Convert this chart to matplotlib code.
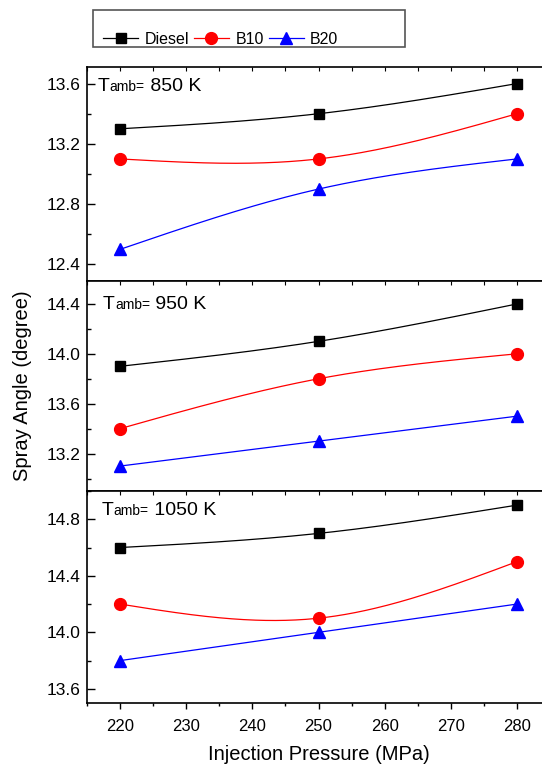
import numpy as np
import matplotlib
matplotlib.use('Agg')
import matplotlib.pyplot as plt
from matplotlib.patches import Rectangle
from matplotlib.offsetbox import TextArea, HPacker, AnchoredOffsetbox
from matplotlib.ticker import MultipleLocator, FormatStrFormatter

plt.rcParams['font.family'] = ['Liberation Sans', 'DejaVu Sans']

# data
pressure = [220, 250, 280]
temps = [850, 950, 1050]
diesel = [[13.3, 13.4, 13.6], [13.9, 14.1, 14.4], [14.6, 14.7, 14.9]]
b10 = [[13.1, 13.1, 13.4], [13.4, 13.8, 14.0], [14.2, 14.1, 14.5]]
b20 = [[12.5, 12.9, 13.1], [13.1, 13.3, 13.5], [13.8, 14.0, 14.2]]
ylims = [(12.29, 13.71), (12.9, 14.584), (13.5, 15.0)]
yticks = [[12.4, 12.8, 13.2, 13.6], [13.2, 13.6, 14.0, 14.4], [13.6, 14.0, 14.4, 14.8]]


def natural_spline(x, y, n=200):
    # smooth connecting line through the points (Origin-style spline)
    x = np.asarray(x, float)
    y = np.asarray(y, float)
    k = len(x)
    h = np.diff(x)
    A = np.zeros((k, k))
    r = np.zeros(k)
    A[0, 0] = A[-1, -1] = 1
    for i in range(1, k - 1):
        A[i, i - 1] = h[i - 1]
        A[i, i] = 2 * (h[i - 1] + h[i])
        A[i, i + 1] = h[i]
        r[i] = 6 * ((y[i + 1] - y[i]) / h[i] - (y[i] - y[i - 1]) / h[i - 1])
    M = np.linalg.solve(A, r)
    xs = np.linspace(x[0], x[-1], n)
    idx = np.clip(np.searchsorted(x, xs) - 1, 0, k - 2)
    hi = h[idx]
    a = (x[idx + 1] - xs) / hi
    b = (xs - x[idx]) / hi
    ys = a * y[idx] + b * y[idx + 1] + ((a**3 - a) * M[idx] + (b**3 - b) * M[idx + 1]) * hi**2 / 6
    return xs, ys


W, H = 542, 764
fig = plt.figure(figsize=(W / 100, H / 100), dpi=100)

left_px, right_px = 87, 550
panel_px = [(67, 281), (281, 491), (491, 703)]
label_px = [(98, 78), (103, 296), (102, 502)]

series = [('Diesel', diesel, 'black', 's', 7), ('B10', b10, 'red', 'o', 8.5), ('B20', b20, 'blue', '^', 8.5)]

axes = []
for p, (top, bot) in enumerate(panel_px):
    ax = fig.add_axes([left_px / W, 1 - bot / H, (right_px - left_px) / W, (bot - top) / H])
    axes.append(ax)
    for name, vals, col, mk, ms in series:
        xs, ys = natural_spline(pressure, vals[p])
        ax.plot(xs, ys, color=col, lw=0.9)
        ax.plot(pressure, vals[p], linestyle='none', marker=mk, ms=ms, color=col, label=name)
    ax.set_xlim(215, 285)
    ax.set_ylim(*ylims[p])
    ax.set_yticks(yticks[p])
    ax.yaxis.set_minor_locator(MultipleLocator(0.2))
    ax.yaxis.set_major_formatter(FormatStrFormatter('%.1f'))
    ax.xaxis.set_major_locator(MultipleLocator(10))
    ax.xaxis.set_minor_locator(MultipleLocator(5))
    ax.tick_params(axis='y', which='major', direction='in', length=5.5, width=1, labelsize=12.5, pad=5)
    ax.tick_params(axis='y', which='minor', direction='in', length=3, width=1)
    ax.tick_params(axis='y', right=False)
    for s in ax.spines.values():
        s.set_linewidth(1.2)
    if p < 2:
        ax.tick_params(axis='x', which='both', bottom=False, top=True, direction='in',
                       length=3, width=0.8, labelbottom=False)
    else:
        ax.tick_params(axis='x', which='major', direction='out', length=4.5, width=1, labelsize=12, pad=7)
        ax.tick_params(axis='x', which='minor', direction='out', length=2.5, width=1)
        sec = ax.secondary_xaxis('top')
        sec.xaxis.set_major_locator(MultipleLocator(10))
        sec.xaxis.set_minor_locator(MultipleLocator(5))
        sec.tick_params(axis='x', which='both', direction='in', length=3, width=0.8, labeltop=False)
        sec.spines['top'].set_visible(False)
        ax.set_xlabel('Injection Pressure (MPa)', fontsize=14.5, labelpad=8)

    # T_amb label
    lx, ly = label_px[p]
    parts = [TextArea('T', textprops=dict(fontsize=14)),
             TextArea('amb=', textprops=dict(fontsize=10)),
             TextArea(f' {temps[p]} K', textprops=dict(fontsize=14))]
    box = HPacker(children=parts, align='baseline', pad=0, sep=0)
    anc = AnchoredOffsetbox(loc='upper left', child=box, pad=0, borderpad=0, frameon=False,
                            bbox_to_anchor=((lx - left_px) / (right_px - left_px), 1 - (ly - top) / (bot - top)),
                            bbox_transform=ax.transAxes)
    ax.add_artist(anc)

axes[1].set_ylabel('Spray Angle (degree)', fontsize=14.5, labelpad=10)

# legend
handles = []
for name, vals, col, mk, ms in series:
    h, = axes[0].plot([], [], color=col, lw=0.9, marker=mk, ms=ms, label=name)
    handles.append(h)
fig.add_artist(Rectangle((93 / W, 1 - 47 / H), (405 - 93) / W, 37 / H, transform=fig.transFigure,
                         fill=False, edgecolor='#555555', lw=1.2))
fig.legend(handles=handles, loc='center left', bbox_to_anchor=(103 / W, 1 - 39.5 / H), ncol=3,
           frameon=False, fontsize=11.5, handlelength=2.2, handletextpad=0.4, columnspacing=0.3,
           borderpad=0, borderaxespad=0)

fig.savefig('out.png', dpi=100)
